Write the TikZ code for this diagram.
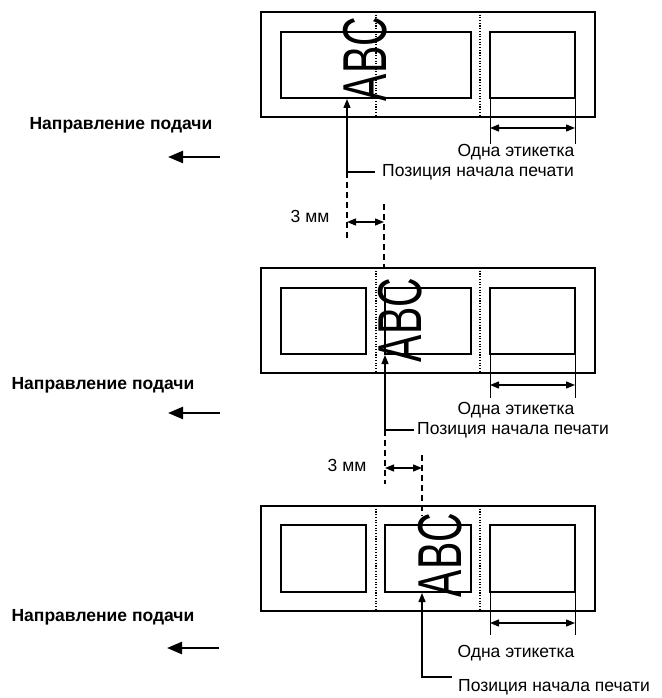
\documentclass[tikz,border=0pt]{standalone}
\usepackage{fontspec}
\usepackage{graphicx}
\setmainfont{Liberation Sans}
\usetikzlibrary{arrows.meta}
\begin{document}
\begin{tikzpicture}[x=1pt,y=-1pt,
  stripbox/.style={draw, line width=1.8pt},
  lblbox/.style={draw, line width=1.3pt},
  perf/.style={line width=1.1pt, dash pattern=on 1.1pt off 1.6pt},
  dashl/.style={line width=1.3pt, dash pattern=on 6pt off 4pt},
  ext/.style={line width=1pt},
  dim/.style={line width=1.3pt, {Triangle[length=9pt,width=7pt]}-{Triangle[length=9pt,width=7pt]}},
  ptr/.style={line width=1.3pt, -{Triangle[length=9pt,width=7pt]}},
  feed/.style={line width=2.4pt, -{Triangle[length=15pt,width=12pt]}},
  txt/.style={font=\fontsize{17.5}{20}\selectfont, inner sep=0pt},
  btxt/.style={font=\bfseries\fontsize{17.5}{20}\selectfont, inner sep=0pt},
  abc/.style={font=\fontsize{62}{62}\selectfont, inner sep=0pt, rotate=90}
]
\useasboundingbox (0,0) rectangle (661,698);

% ---------------- Panel 1 ----------------
\draw[stripbox] (261,12) rectangle (595,117);
\draw[perf] (376,12) -- (376,117);
\draw[perf] (480,12) -- (480,117);
\draw[lblbox] (281,32) rectangle (471,98);
\draw[lblbox] (490,32) rectangle (575,98);
\coordinate (e1a) at (490,98); \coordinate (e1b) at (490,144);
\coordinate (e1c) at (575,98); \coordinate (e1d) at (575,144);
\draw[ext] (e1a) -- (e1b);
\draw[ext] (e1c) -- (e1d);
\coordinate (d1a) at (490,128); \coordinate (d1b) at (575,128);
\draw[dim] (d1a) -- (d1b);
\node[txt] (one1) at (516,152) {Одна этикетка};
\node[abc] (abc1) at (365,59) {\scalebox{0.66}[1]{ABC}};
\node[txt, anchor=west] (pos1) at (382,172) {Позиция начала печати};
\coordinate (t1) at (347,99);
\coordinate (c1) at (347,172);
\draw[ptr] ([xshift=-7pt]pos1.west) -| (t1);
\coordinate (c1b) at (347,240);
\draw[dashl] (c1) -- (c1b);
\coordinate (g1a) at (384,204); \coordinate (g1b) at (384,268);
\draw[dashl] (g1a) -- (g1b);
\coordinate (m1a) at (347,222); \coordinate (m1b) at (384,222);
\draw[dim] (m1a) -- (m1b);
\node[txt] (mm1) at (310,216) {3 мм};
\node[btxt] (dir1) at (121,125) {Направление подачи};
\coordinate (f1s) at (220,157); \coordinate (f1e) at (168,157);
\draw[feed] (f1s) -- (f1e);

% ---------------- Panel 2 ----------------
\draw[stripbox] (261,268) rectangle (595,373);
\draw[perf] (376,268) -- (376,373);
\draw[perf] (480,268) -- (480,373);
\draw[lblbox] (281,288) rectangle (366,354);
\draw[lblbox] (385,288) rectangle (471,354);
\draw[lblbox] (490,288) rectangle (575,354);
\coordinate (e2a) at (490,354); \coordinate (e2b) at (490,398);
\coordinate (e2c) at (575,354); \coordinate (e2d) at (575,398);
\draw[ext] (e2a) -- (e2b);
\draw[ext] (e2c) -- (e2d);
\coordinate (d2a) at (490,385); \coordinate (d2b) at (575,385);
\draw[dim] (d2a) -- (d2b);
\node[txt] (one2) at (516,410) {Одна этикетка};
\node[abc] (abc2) at (400,320) {\scalebox{0.66}[1]{ABC}};
\node[txt, anchor=west] (pos2) at (417,430) {Позиция начала печати};
\coordinate (t2) at (385,355);
\coordinate (c2) at (385,430);
\draw[ptr] ([xshift=-3pt]pos2.west) -| (t2);
\coordinate (c2b) at (385,484);
\draw[dashl] (c2) -- (c2b);
\coordinate (g2a) at (422,455); \coordinate (g2b) at (422,516);
\draw[dashl] (g2a) -- (g2b);
\coordinate (m2a) at (385,468); \coordinate (m2b) at (422,468);
\draw[dim] (m2a) -- (m2b);
\node[txt] (mm2) at (347,465) {3 мм};
\node[btxt] (dir2) at (103,385) {Направление подачи};
\coordinate (f2s) at (220,413); \coordinate (f2e) at (168,413);
\draw[feed] (f2s) -- (f2e);

% ---------------- Panel 3 ----------------
\draw[stripbox] (261,506) rectangle (595,611);
\draw[perf] (376,506) -- (376,611);
\draw[perf] (480,506) -- (480,611);
\draw[lblbox] (281,525) rectangle (366,592);
\draw[lblbox] (385,525) rectangle (471,592);
\draw[lblbox] (490,525) rectangle (575,592);
\coordinate (e3a) at (490,592); \coordinate (e3b) at (490,635);
\coordinate (e3c) at (575,592); \coordinate (e3d) at (575,635);
\draw[ext] (e3a) -- (e3b);
\draw[ext] (e3c) -- (e3d);
\coordinate (d3a) at (490,623); \coordinate (d3b) at (575,623);
\draw[dim] (d3a) -- (d3b);
\node[txt] (one3) at (516,653) {Одна этикетка};
\node[abc] (abc3) at (440,555) {\scalebox{0.66}[1]{ABC}};
\node[txt, anchor=west] (pos3) at (458,687) {Позиция начала печати};
\coordinate (t3) at (422,593);
\coordinate (h3) at (452,677);
\draw[ptr] (h3) -| (t3);
\node[btxt] (dir3) at (103,617) {Направление подачи};
\coordinate (f3s) at (219,648); \coordinate (f3e) at (167,648);
\draw[feed] (f3s) -- (f3e);
\end{tikzpicture}
\end{document}
